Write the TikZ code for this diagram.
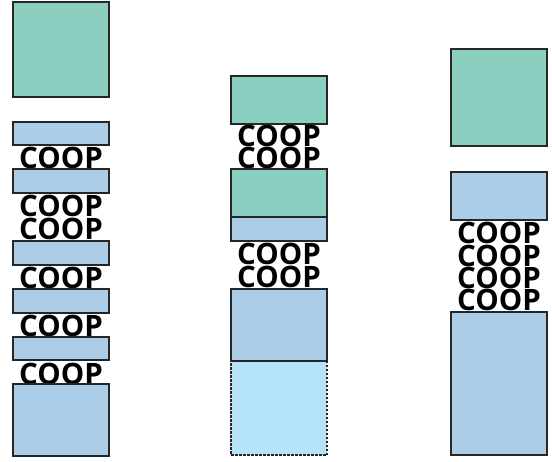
\documentclass[tikz,border=0pt]{standalone}
\usepackage{fontspec}
\setmainfont{Open Sans}
\definecolor{boxgreen}{HTML}{8ACFBF}
\definecolor{boxblue}{HTML}{ABCDE8}
\definecolor{boxlight}{HTML}{B5E3F7}
\tikzset{
  blk/.style={draw=black!85, line width=1.2pt, inner sep=0pt, outer sep=0pt, anchor=north west},
  gbox/.style={blk, fill=boxgreen},
  bbox/.style={blk, fill=boxblue},
  lbox/.style={blk, fill=boxlight, dash pattern=on 2.5pt off 1.5pt},
  coop/.style={inner sep=0pt, font=\fontsize{29.5}{29.5}\selectfont\bfseries, text depth=0pt}
}
\begin{document}
\begin{tikzpicture}[x=1pt,y=-1pt]
\useasboundingbox (0,0) rectangle (552,461);
% texts first
\node[coop] (t11) at (61,158) {COOP};
\node[coop] (t12) at (61,206) {COOP};
\node[coop] (t13) at (61,229) {COOP};
\node[coop] (t14) at (61,278) {COOP};
\node[coop] (t15) at (61,326) {COOP};
\node[coop] (t16) at (61,374) {COOP};
\node[coop] (t21) at (279,136) {COOP};
\node[coop] (t22) at (279,158) {COOP};
\node[coop] (t23) at (279,254) {COOP};
\node[coop] (t24) at (279,277) {COOP};
\node[coop] (t31) at (499,233) {COOP};
\node[coop] (t32) at (499,256) {COOP};
\node[coop] (t33) at (499,278) {COOP};
\node[coop] (t34) at (499,300) {COOP};
% column 1
\node[gbox, minimum width=96pt, minimum height=95pt] (a1) at (13,2) {};
\node[bbox, minimum width=96pt, minimum height=23pt] (a2) at (13,122) {};
\node[bbox, minimum width=96pt, minimum height=24pt] (a3) at (13,169) {};
\node[bbox, minimum width=96pt, minimum height=24pt] (a4) at (13,241) {};
\node[bbox, minimum width=96pt, minimum height=24pt] (a5) at (13,289) {};
\node[bbox, minimum width=96pt, minimum height=23pt] (a6) at (13,337) {};
\node[bbox, minimum width=96pt, minimum height=72pt] (a7) at (13,384) {};
% column 2
\node[gbox, minimum width=96pt, minimum height=48pt] (b1) at (231,76) {};
\node[gbox, minimum width=96pt, minimum height=48pt] (b2) at (231,169) {};
\node[bbox, minimum width=96pt, minimum height=24pt] (b3) at (231,217) {};
\node[lbox, minimum width=96pt, minimum height=94pt] (b5) at (231,361) {};
\node[bbox, minimum width=96pt, minimum height=72pt] (b4) at (231,289) {};
% column 3
\node[gbox, minimum width=96pt, minimum height=97pt] (c1) at (451,49) {};
\node[bbox, minimum width=96pt, minimum height=48pt] (c2) at (451,172) {};
\node[bbox, minimum width=96pt, minimum height=143pt] (c3) at (451,312) {};
\end{tikzpicture}
\end{document}
